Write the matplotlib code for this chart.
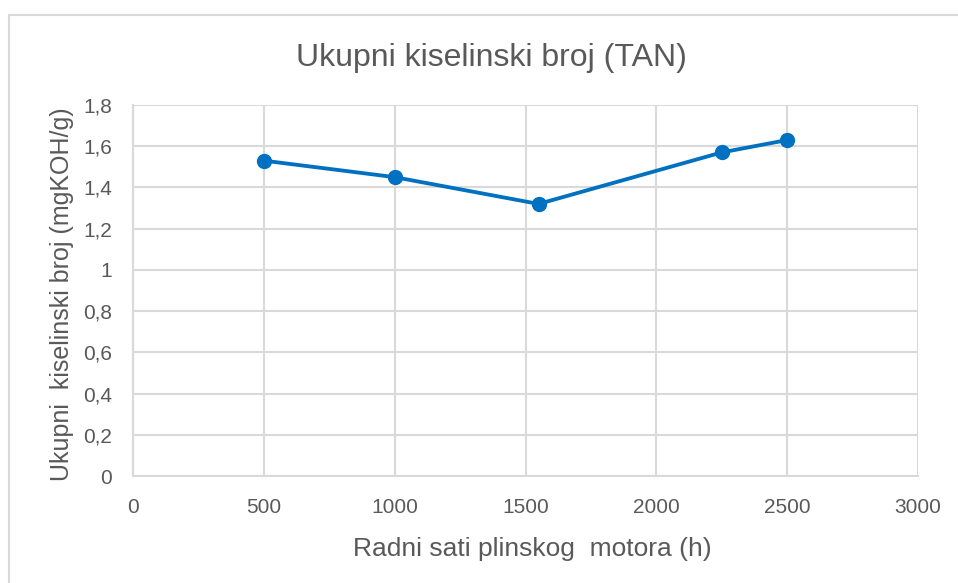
import matplotlib
matplotlib.use("Agg")
import matplotlib.pyplot as plt
from matplotlib.patches import Rectangle
from matplotlib.ticker import FuncFormatter

# data
sati = [500, 1000, 1550, 2250, 2500]
tan = [1.53, 1.45, 1.32, 1.57, 1.63]
x_ticks = [0, 500, 1000, 1500, 2000, 2500, 3000]
y_ticks = [0, 0.2, 0.4, 0.6, 0.8, 1.0, 1.2, 1.4, 1.6, 1.8]

plt.rcParams['font.family'] = ['Liberation Sans', 'DejaVu Sans']
grey = '#595959'
grid_col = '#d9d9d9'

fig = plt.figure(figsize=(9.58, 5.83), dpi=100, facecolor='white')

# outer chart border
fig.patches.append(Rectangle((9 / 958, -0.1), 1.1, (583 - 15) / 583 + 0.1,
                             transform=fig.transFigure, fill=False,
                             edgecolor='#d9d9d9', linewidth=1.5))

ax = fig.add_axes([133 / 958, (583 - 476) / 583, 785 / 958, 371 / 583])
ax.plot(sati, tan, color='#0070c0', linewidth=2.75, marker='o',
        markersize=10, zorder=3)

ax.set_xlim(0, 3000)
ax.set_ylim(0, 1.8)
ax.set_xticks(x_ticks)
ax.set_yticks(y_ticks)
ax.yaxis.set_major_formatter(FuncFormatter(
    lambda v, p: ('%g' % round(v, 1)).replace('.', ',')))
ax.grid(True, color=grid_col, linewidth=1.5)
ax.set_axisbelow(True)
for s in ['top', 'right']:
    ax.spines[s].set_visible(False)
for s in ['left', 'bottom']:
    ax.spines[s].set_color(grid_col)
    ax.spines[s].set_linewidth(1.5)
ax.tick_params(length=0, colors=grey, labelsize=15)
ax.tick_params(axis='x', pad=16)
ax.tick_params(axis='y', pad=15)

fig.text(491 / 958, 1 - 58 / 583, 'Ukupni kiselinski broj (TAN)',
         fontsize=23, color=grey, ha='center', va='center')
fig.text(532 / 958, 1 - 549 / 583, 'Radni sati plinskog  motora (h)',
         fontsize=19, color=grey, ha='center', va='center')
fig.text(62 / 958, 1 - 294 / 583, 'Ukupni  kiselinski broj (mgKOH/g)',
         fontsize=18, color=grey, ha='center', va='center', rotation=90)

fig.savefig('out.png', dpi=100, facecolor='white')
